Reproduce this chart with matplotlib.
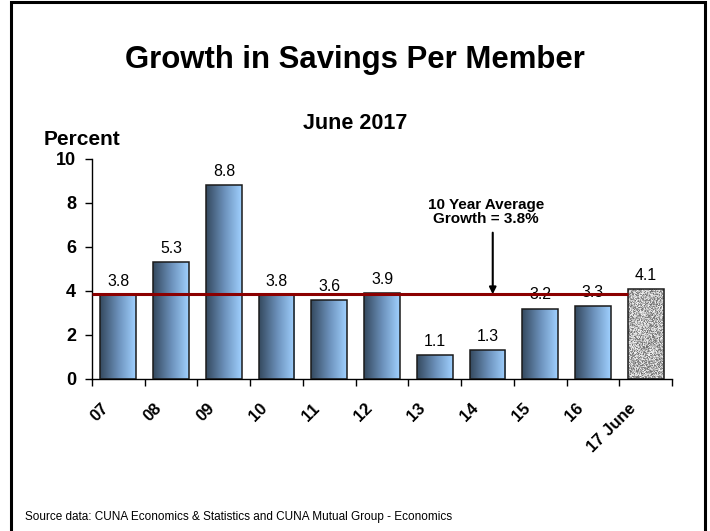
import numpy as np
import matplotlib
matplotlib.use("Agg")
import matplotlib.pyplot as plt
from matplotlib.patches import Rectangle
from matplotlib.colors import LinearSegmentedColormap
import matplotlib.transforms as mtransforms

plt.rcParams['font.family'] = ['Liberation Sans', 'DejaVu Sans']

# Data
categories = ["07", "08", "09", "10", "11", "12", "13", "14", "15", "16", "17 June"]
growth = [3.8, 5.3, 8.8, 3.8, 3.6, 3.9, 1.1, 1.3, 3.2, 3.3, 4.1]
ten_year_avg = 3.85
avg_label = "10 Year Average\nGrowth = 3.8%"

fig = plt.figure(figsize=(7.10, 5.31), dpi=100)
ax = fig.add_axes([0.1296, 0.2863, 0.8169, 0.4143])

x = np.arange(len(categories))
bar_w = 0.68
blue_grad = LinearSegmentedColormap.from_list("bg", ["#34495f", "#6a8fb8", "#9fd0ff"])
grad = np.linspace(0, 1, 128).reshape(1, -1)
rng = np.random.default_rng(7)
speckle = rng.random((120, 40))
gray_cmap = LinearSegmentedColormap.from_list("gr", ["#6e6e6e", "#b8b8b8", "#f2f2f2"])

for i, (xi, v) in enumerate(zip(x, growth)):
    x0, x1 = xi - bar_w / 2, xi + bar_w / 2
    rect = Rectangle((x0, 0), bar_w, v, facecolor="none", edgecolor="#1a1a1a",
                     linewidth=1.1, zorder=3)
    ax.add_patch(rect)
    if i == len(growth) - 1:
        im = ax.imshow(speckle, extent=(x0, x1, 0, v), cmap=gray_cmap,
                       aspect="auto", interpolation="nearest", zorder=2)
    else:
        im = ax.imshow(grad, extent=(x0, x1, 0, v), cmap=blue_grad,
                       aspect="auto", interpolation="bilinear", zorder=2)
    im.set_clip_path(rect)
    ax.text(xi, v + 0.28, f"{v:.1f}", ha="center", va="bottom", fontsize=11.4, zorder=3)

# Average line runs up to the current-year bar
ax.plot([-0.5, x[-1] - bar_w / 2], [ten_year_avg, ten_year_avg], color="#8b0000",
        linewidth=2.2, zorder=4, solid_capstyle="butt")

ax.annotate("", xy=(7.1, ten_year_avg), xytext=(7.1, 6.65),
            arrowprops=dict(arrowstyle="-|>", color="black", lw=1.5,
                            mutation_scale=10, shrinkA=0, shrinkB=0), zorder=5)
ax.text(6.97, 6.95, avg_label, ha="center", va="bottom", fontsize=11,
        fontweight="bold", linespacing=1.05)

ax.set_xlim(-0.5, len(categories) - 0.5)
ax.set_ylim(0, 10)
ax.set_yticks([0, 2, 4, 6, 8, 10])
ax.set_yticklabels(["0", "2", "4", "6", "8", "10"], fontsize=13, fontweight="bold")
ax.tick_params(axis="y", direction="out", length=5, width=1, pad=6.5)

ax.set_xticks(np.arange(-0.5, len(categories), 1.0))
ax.set_xticklabels([])
ax.tick_params(axis="x", direction="out", length=5, width=1)
for xi, lab in zip(x, categories):
    off = mtransforms.offset_copy(ax.transData, fig=fig, x=-8.5, y=-19.5, units="points")
    ax.text(xi, 0, lab, transform=off, rotation=45, rotation_mode="anchor",
            ha="right", va="center", fontsize=12, fontweight="bold")

for s in ["top", "right"]:
    ax.spines[s].set_visible(False)
for s in ["left", "bottom"]:
    ax.spines[s].set_linewidth(1)

# Figure texts
fig.text(0.5, 0.8875, "Growth in Savings Per Member", ha="center", va="center",
         fontsize=22.4, fontweight="bold")
fig.text(0.5, 0.768, "June 2017", ha="center", va="center", fontsize=15.5, fontweight="bold")
fig.text(0.1155, 0.737, "Percent", ha="center", va="center", fontsize=15, fontweight="bold")
fig.text(0.035, 0.026, "Source data: CUNA Economics & Statistics and CUNA Mutual Group - Economics",
         ha="left", va="center", fontsize=8.5)

# Outer frame
fig.add_artist(Rectangle((0.0155, -0.01), 0.977, 1.006, transform=fig.transFigure,
                         facecolor="none", edgecolor="black", linewidth=2.2))

fig.savefig("out.png", dpi=100)
